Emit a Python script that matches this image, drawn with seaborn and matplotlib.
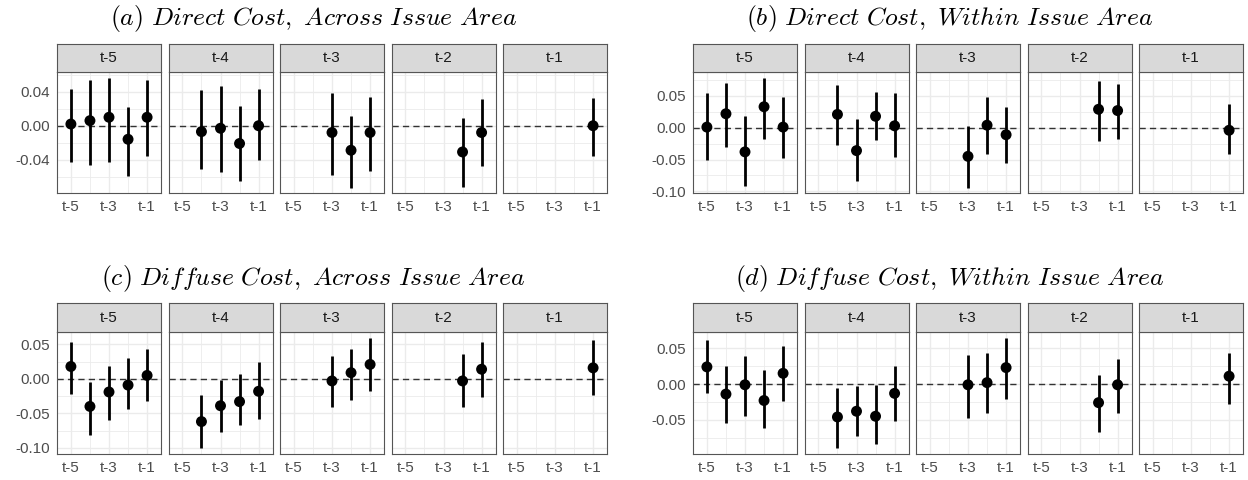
import numpy as np
import pandas as pd
import matplotlib
matplotlib.use('Agg')
import matplotlib.pyplot as plt
import seaborn as sns

# facets = lag of the treatment, x = lag of the outcome window
facets = ['t-5', 't-4', 't-3', 't-2', 't-1']
lags = ['t-5', 't-4', 't-3', 't-2', 't-1']

titles = [r'$\mathit{(a)\ Direct\ Cost,\ Across\ Issue\ Area}$',
          r'$\mathit{(b)\ Direct\ Cost,\ Within\ Issue\ Area}$',
          r'$\mathit{(c)\ Diffuse\ Cost,\ Across\ Issue\ Area}$',
          r'$\mathit{(d)\ Diffuse\ Cost,\ Within\ Issue\ Area}$']

# (a) Direct Cost, Across Issue Area
a_est = [[0.002, 0.006, 0.010, -0.016, 0.010],
         [-0.007, -0.003, -0.021, 0.000],
         [-0.008, -0.029, -0.008],
         [-0.031, -0.008],
         [0.000]]
a_lo = [[-0.043, -0.046, -0.043, -0.059, -0.036],
        [-0.051, -0.055, -0.065, -0.041],
        [-0.058, -0.073, -0.054],
        [-0.072, -0.048],
        [-0.036]]
a_hi = [[0.044, 0.054, 0.057, 0.022, 0.054],
        [0.042, 0.047, 0.023, 0.043],
        [0.039, 0.012, 0.034],
        [0.009, 0.032],
        [0.033]]

# (b) Direct Cost, Within Issue Area
b_est = [[0.001, 0.022, -0.038, 0.033, 0.001],
         [0.021, -0.036, 0.018, 0.003],
         [-0.045, 0.004, -0.011],
         [0.029, 0.027],
         [-0.004]]
b_lo = [[-0.050, -0.030, -0.091, -0.018, -0.047],
        [-0.027, -0.083, -0.019, -0.046],
        [-0.094, -0.041, -0.055],
        [-0.021, -0.017],
        [-0.042]]
b_hi = [[0.055, 0.070, 0.018, 0.079, 0.048],
        [0.067, 0.014, 0.056, 0.054],
        [0.003, 0.048, 0.032],
        [0.073, 0.069],
        [0.037]]

# (c) Diffuse Cost, Across Issue Area
c_est = [[0.018, -0.040, -0.019, -0.009, 0.005],
         [-0.062, -0.039, -0.033, -0.018],
         [-0.003, 0.009, 0.021],
         [-0.003, 0.014],
         [0.016]]
c_lo = [[-0.022, -0.081, -0.059, -0.044, -0.032],
        [-0.101, -0.077, -0.067, -0.058],
        [-0.041, -0.030, -0.017],
        [-0.041, -0.026],
        [-0.024]]
c_hi = [[0.054, -0.005, 0.019, 0.031, 0.044],
        [-0.024, -0.002, 0.007, 0.025],
        [0.033, 0.044, 0.060],
        [0.036, 0.054],
        [0.057]]

# (d) Diffuse Cost, Within Issue Area
d_est = [[0.024, -0.014, -0.001, -0.023, 0.015],
         [-0.046, -0.038, -0.045, -0.013],
         [-0.001, 0.002, 0.023],
         [-0.026, -0.001],
         [0.011]]
d_lo = [[-0.013, -0.054, -0.044, -0.062, -0.024],
        [-0.090, -0.073, -0.084, -0.051],
        [-0.047, -0.041, -0.021],
        [-0.067, -0.040],
        [-0.028]]
d_hi = [[0.061, 0.025, 0.039, 0.020, 0.053],
        [-0.005, -0.003, -0.002, 0.025],
        [0.040, 0.043, 0.065],
        [0.012, 0.035],
        [0.044]]

y_major = [[-0.04, 0.0, 0.04],
           [-0.10, -0.05, 0.0, 0.05],
           [-0.10, -0.05, 0.0, 0.05],
           [-0.05, 0.0, 0.05]]
y_minor = [[-0.06, -0.02, 0.02, 0.06],
           [-0.075, -0.025, 0.025, 0.075],
           [-0.075, -0.025, 0.025],
           [-0.075, -0.025, 0.025]]

panels = [(a_est, a_lo, a_hi), (b_est, b_lo, b_hi),
          (c_est, c_lo, c_hi), (d_est, d_lo, d_hi)]

sns.set_theme(style='whitegrid')
plt.rcParams['font.family'] = ['Liberation Sans', 'DejaVu Sans']
plt.rcParams['mathtext.fontset'] = 'cm'
plt.rcParams['axes.unicode_minus'] = False

W, H = 1248, 480
fig = plt.figure(figsize=(W / 100, H / 100), dpi=100)
fig.patch.set_facecolor('white')


def px_axes(x, y, w, h):
    return fig.add_axes([x / W, 1 - (y + h) / H, w / W, h / H])


panel_x = [57, 693]
rows = [(44, 72, 193), (303, 332, 454)]
title_x = [313, 950]
title_y = [18, 278]
stride = 111.5
fw = 104

for p, (est, lo, hi) in enumerate(panels):
    col, row = p % 2, p // 2
    st, pt, pb = rows[row]

    recs = []
    for i, f in enumerate(facets):
        for j, v in enumerate(est[i]):
            k = 5 - len(est[i]) + j
            recs.append(dict(facet=f, x=k, est=v, lo=lo[i][j], hi=hi[i][j]))
    df = pd.DataFrame(recs)
    ymin, ymax = df['lo'].min(), df['hi'].max()
    pad = 0.05 * (ymax - ymin)

    fig.text(title_x[col] / W, 1 - title_y[row] / H,
             titles[p], ha='center', va='center', fontsize=18.5, color='black')

    for i, f in enumerate(facets):
        x0 = panel_x[col] + i * stride
        ax = px_axes(x0, pt, fw, pb - pt)
        sub = df[df['facet'] == f]

        ax.axhline(0, color='#333333', lw=1.0, ls=(0, (4.5, 3)), zorder=1)
        ax.vlines(sub['x'], sub['lo'], sub['hi'], color='black', lw=2.0, zorder=2)
        sns.scatterplot(data=sub, x='x', y='est', color='black', s=62,
                        edgecolor='none', ax=ax, zorder=3, legend=False)

        ax.set_xlim(-0.73, 4.73)
        ax.set_ylim(ymin - pad, ymax + pad)
        ax.set_xticks([0, 2, 4])
        ax.set_xticklabels([lags[0], lags[2], lags[4]])
        ax.set_xticks([1, 3], minor=True)
        ax.set_yticks(y_major[p])
        ax.set_yticks(y_minor[p], minor=True)
        ax.set_yticklabels([f'{v:.2f}' for v in y_major[p]])
        ax.set_xlabel('')
        ax.set_ylabel('')
        ax.set_facecolor('white')
        ax.grid(True, which='major', color='#EBEBEB', lw=1.0)
        ax.grid(True, which='minor', color='#EBEBEB', lw=0.6)
        ax.set_axisbelow(True)
        for s in ax.spines.values():
            s.set_color('#555555')
            s.set_linewidth(0.8)
        ax.tick_params(which='major', axis='x', length=3.5, width=0.8,
                       color='#333333', labelsize=11, labelcolor='#4D4D4D', pad=1.5)
        ax.tick_params(which='minor', length=0)
        if i == 0:
            ax.tick_params(which='major', axis='y', length=3.5, width=0.8,
                           color='#333333', labelsize=11, labelcolor='#4D4D4D', pad=1.5)
        else:
            ax.tick_params(which='major', axis='y', length=0, labelleft=False)

        sax = px_axes(x0, st, fw, pt - st)
        sax.set_facecolor('#D9D9D9')
        sax.set_xticks([])
        sax.set_yticks([])
        sax.grid(False)
        for s in sax.spines.values():
            s.set_color('#555555')
            s.set_linewidth(0.8)
        sax.text(0.5, 0.5, f, ha='center', va='center', fontsize=11,
                 color='#1A1A1A', transform=sax.transAxes)

fig.savefig('out.png', dpi=100, facecolor='white')
